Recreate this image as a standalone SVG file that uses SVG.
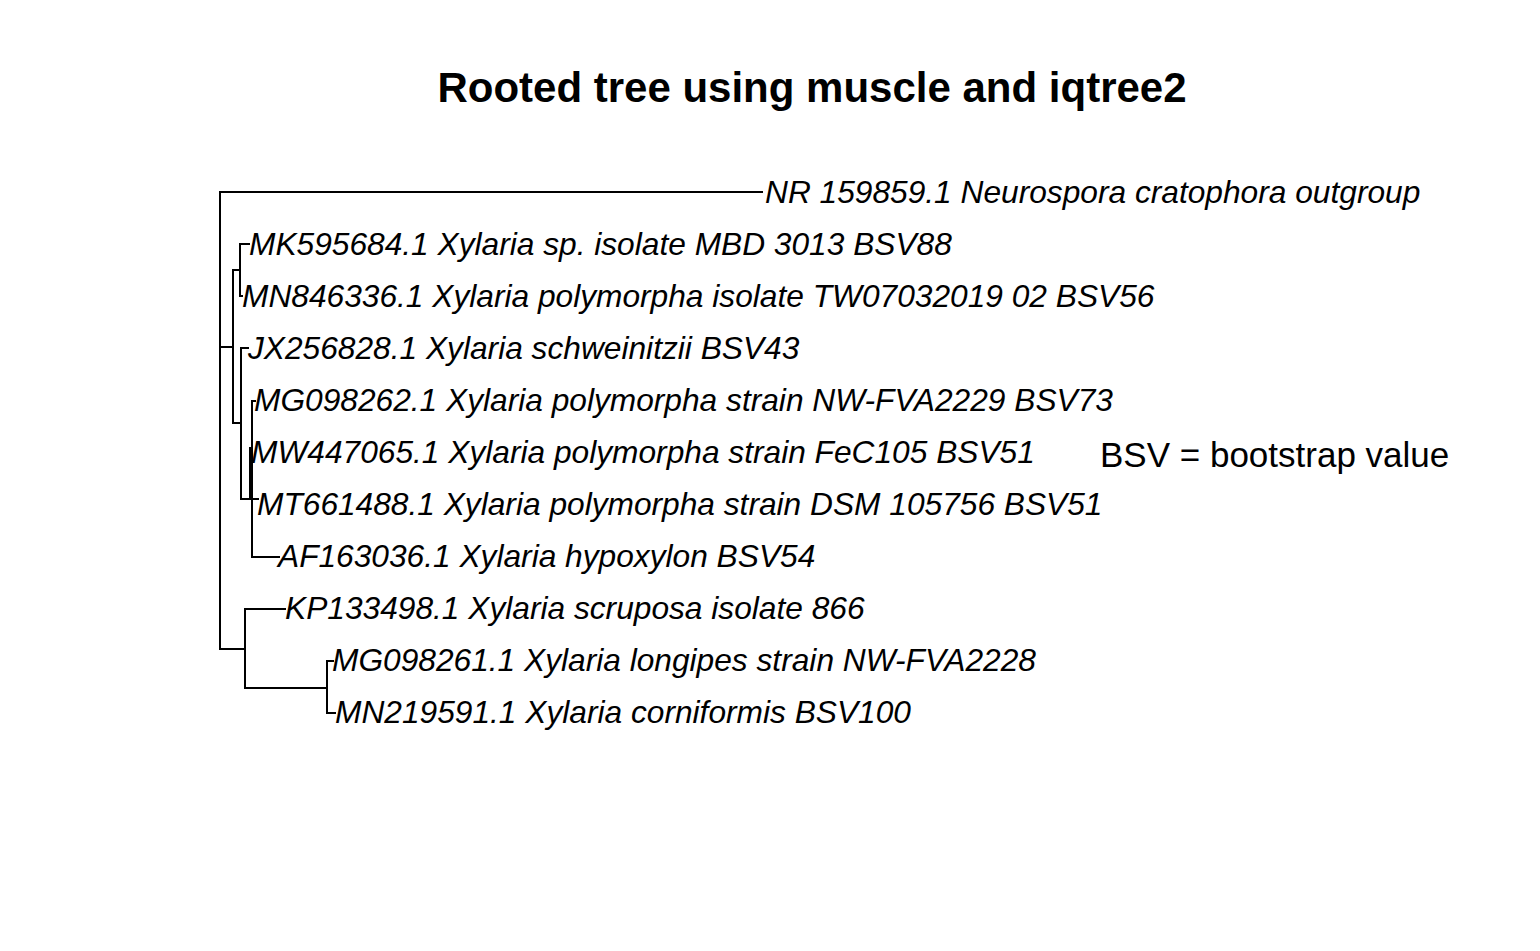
<svg xmlns="http://www.w3.org/2000/svg" width="1540" height="951" viewBox="0 0 1540 951">
<style>
.e{stroke:#000;stroke-width:2;fill:none;stroke-linecap:square}
.t{font-family:"Liberation Sans",Arial,sans-serif;font-style:italic;font-size:31.7px;fill:#000}
.ti{font-family:"Liberation Sans",Arial,sans-serif;font-weight:bold;font-size:42px;fill:#000}
.n{font-family:"Liberation Sans",Arial,sans-serif;font-size:35px;fill:#000}
</style>
<rect width="1540" height="951" fill="#fff"/>
<text class="ti" x="812" y="102" text-anchor="middle">Rooted tree using muscle and iqtree2</text>
<g id="edges">
<path class="e" d="M220 192H762 M220 192V649"/>
<path class="e" d="M220 347H233 M233 270V423 M233 270H240 M240 244V296 M240 244H249 M240 296H242"/>
<path class="e" d="M233 423H241 M241 348V499 M241 348H248 M241 499H250 M250 448V499 M252 401V557 M252 401H255 M252 499H258 M252 557H279"/>
<path class="e" d="M220 649H245 M245 609V688 M245 609H285 M245 688H327 M327 661V713 M327 661H333 M327 713H335"/>
</g>
<g id="n1"><text class="t" x="765" y="203">NR 159859.1 Neurospora cratophora outgroup</text></g>
<g id="n2"><text class="t" x="249" y="255">MK595684.1 Xylaria sp. isolate MBD 3013 BSV88</text></g>
<g id="n3"><text class="t" x="242" y="307">MN846336.1 Xylaria polymorpha isolate TW07032019 02 BSV56</text></g>
<g id="n4"><text class="t" x="248" y="359">JX256828.1 Xylaria schweinitzii BSV43</text></g>
<g id="n5"><text class="t" x="254" y="411">MG098262.1 Xylaria polymorpha strain NW-FVA2229 BSV73</text></g>
<g id="n6"><text class="t" x="251" y="463">MW447065.1 Xylaria polymorpha strain FeC105 BSV51</text></g>
<g id="n7"><text class="t" x="257" y="515">MT661488.1 Xylaria polymorpha strain DSM 105756 BSV51</text></g>
<g id="n8"><text class="t" x="278" y="567">AF163036.1 Xylaria hypoxylon BSV54</text></g>
<g id="n9"><text class="t" x="285" y="619">KP133498.1 Xylaria scruposa isolate 866</text></g>
<g id="n10"><text class="t" x="332" y="671">MG098261.1 Xylaria longipes strain NW-FVA2228</text></g>
<g id="n11"><text class="t" x="335" y="723">MN219591.1 Xylaria corniformis BSV100</text></g>
<g id="legend"><text class="n" x="1100" y="467">BSV = bootstrap value</text></g>
</svg>
